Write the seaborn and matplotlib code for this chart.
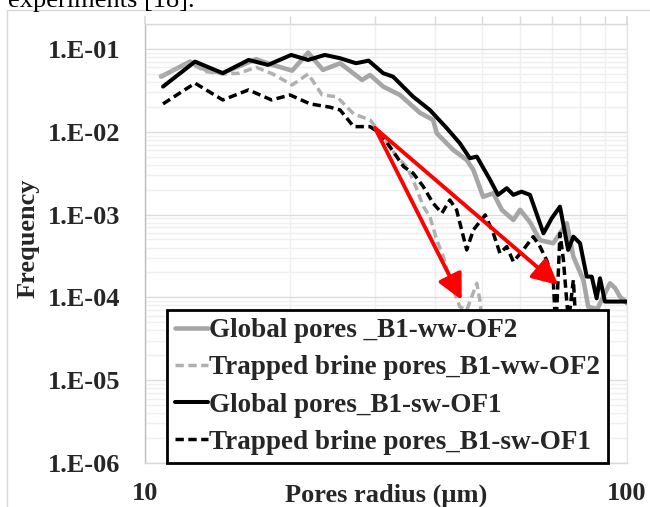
import numpy as np
import pandas as pd
import matplotlib
matplotlib.use("Agg")
import matplotlib.pyplot as plt
import matplotlib.ticker as mticker
from matplotlib.patches import Rectangle
import seaborn as sns

# ---------------- data ----------------
global_ww_x = [10.8, 12.4, 13.4, 14.5, 17.0, 18.4, 20.2, 21.8, 23.4, 25.4, 28.2, 29.3, 31.2, 33.8,
               37.2, 39.6, 40.3, 43.6, 46.5, 48.0, 50.3, 52.8, 55.0, 58.1, 60.0, 62.9, 66.0, 70.3,
               75.0, 77.4, 81.2, 83.1, 86.7, 92.2, 94.4, 96.7, 100.0]
global_ww_y = [0.0463, 0.0703, 0.0558, 0.0513, 0.0751, 0.0641, 0.0547, 0.0902, 0.0558, 0.0672, 0.0422,
               0.0485, 0.0351, 0.0278, 0.0169, 0.0139, 0.0096, 0.00603, 0.00456, 0.00346, 0.00164,
               0.00181, 0.00114, 0.00086, 0.00114, 0.00081, 0.00049, 0.00045, 0.000785, 0.00031,
               0.000162, 7.7e-5, 7.2e-5, 0.000148, 0.00013, 0.000102, 8.5e-5]

trapped_ww_x = [10.7, 12.4, 13.4, 14.5, 15.7, 17.0, 18.4, 20.2, 21.8, 23.3, 25.0, 27.1, 29.3, 31.2,
                33.3, 34.9, 36.0, 37.8, 39.0, 40.3, 41.6, 42.9, 45.0, 46.5, 48.8, 49.5, 51.0]
trapped_ww_y = [0.0463, 0.0672, 0.0532, 0.0499, 0.0509, 0.0601, 0.0499, 0.0367, 0.0499, 0.0278, 0.0265,
                0.0164, 0.0139, 0.00873, 0.00501, 0.00379, 0.00262, 0.00125, 0.000943, 0.000493,
                0.00031, 0.000162, 7.7e-5, 7.0e-5, 0.000148, 9.3e-5, 2.0e-5]

global_sw_x = [10.9, 12.7, 14.5, 16.4, 18.0, 20.1, 21.8, 23.6, 25.4, 27.4, 29.1, 31.2, 32.7, 36.0,
               39.0, 42.3, 45.0, 47.2, 48.8, 52.0, 54.0, 56.3, 58.1, 60.4, 62.9, 67.1, 69.8, 72.6,
               75.5, 77.4, 79.9, 82.5, 84.5, 86.5, 87.9, 90.0, 100.0]
global_sw_y = [0.0351, 0.0703, 0.0509, 0.0736, 0.0641, 0.0846, 0.0736, 0.0846, 0.0772, 0.0672, 0.0722,
               0.0509, 0.0463, 0.0265, 0.0183, 0.0110, 0.00726, 0.00479, 0.00501, 0.00262, 0.00173,
               0.00208, 0.00173, 0.00189, 0.00173, 0.000594, 0.000902, 0.001246, 0.000374, 0.000541,
               0.00045, 0.000178, 0.000178, 9.75e-5, 0.00017, 8.9e-5, 8.9e-5]

trapped_sw_x = [10.9, 12.7, 14.5, 16.4, 18.3, 20.0, 22.0, 24.2, 25.4, 27.1, 29.3, 30.7, 32.2, 34.4,
                36.0, 37.8, 39.6, 41.3, 42.9, 44.3, 46.5, 48.0, 50.8, 52.8, 54.5, 56.3, 58.1, 60.9,
                63.9, 66.0, 68.1, 70.3, 71.2, 72.6, 73.8, 75.6, 77.4, 79.0]
trapped_sw_y = [0.0217, 0.0386, 0.0242, 0.032, 0.0242, 0.0278, 0.0217, 0.0198, 0.0183, 0.01153, 0.01153,
                0.0096, 0.0066, 0.00379, 0.00316, 0.00217, 0.00137, 0.00104, 0.0015, 0.00114,
                0.000374, 0.000652, 0.00099, 0.000594, 0.000341, 0.00041, 0.00027, 0.000374,
                0.000541, 0.00041, 0.000283, 0.000162, 4.0e-5, 0.000594, 0.000283, 5.0e-5,
                0.000162, 2.0e-5]

series_labels = ["Global pores _B1-ww-OF2", "Trapped brine pores_B1-ww-OF2",
                 "Global pores_B1-sw-OF1", "Trapped brine pores_B1-sw-OF1"]

y_ticks = [1e-6, 1e-5, 1e-4, 1e-3, 1e-2, 1e-1]
x_ticks = [10, 100]

arrow_start = (30.0, 0.0111)
arrow_ends = [(45.4, 9.3e-5), (72.0, 1.41e-4)]

# ---------------- style ----------------
sns.set_theme(style="white")
plt.rcParams["font.family"] = ["Liberation Serif", "DejaVu Serif"]
plt.rcParams["font.weight"] = "bold"

W, H = 650, 507
fig = plt.figure(figsize=(W / 100, H / 100), dpi=100)
fig.patch.set_facecolor("white")

# outer chart border (light gray)
fig.patches.append(Rectangle((7 / W, -0.1), 2.0, 1.1 - 10 / H, transform=fig.transFigure,
                             fill=False, edgecolor="#d9d9d9", lw=1.0))
fig.text(8 / W, 1 - 7 / H, "experiments [18].", fontsize=19, fontweight="normal",
         family="Liberation Serif", va="baseline", ha="left", color="black")

ax = fig.add_axes([145 / W, (H - 463) / H, 482 / W, 439 / H])

df = {
    series_labels[0]: pd.DataFrame({"x": global_ww_x, "y": global_ww_y}),
    series_labels[1]: pd.DataFrame({"x": trapped_ww_x, "y": trapped_ww_y}),
    series_labels[2]: pd.DataFrame({"x": global_sw_x, "y": global_sw_y}),
    series_labels[3]: pd.DataFrame({"x": trapped_sw_x, "y": trapped_sw_y}),
}
styles = [
    dict(color="#a6a6a6", lw=3.3, ls="-"),
    dict(color="#b0b0b0", lw=2.5, ls=(0, (2.4, 1.3))),
    dict(color="black", lw=2.9, ls="-"),
    dict(color="black", lw=2.5, ls=(0, (2.4, 1.3))),
]
for lab, st in zip(series_labels, styles):
    d = df[lab]
    sns.lineplot(data=d, x="x", y="y", ax=ax, sort=False, estimator=None,
                 color=st["color"], linewidth=st["lw"], linestyle=st["ls"], label=lab,
                 zorder=3)

for end in arrow_ends:
    ax.annotate("", xy=end, xytext=arrow_start,
                arrowprops=dict(arrowstyle="-|>,head_length=0.7,head_width=0.35",
                                color="#ff0000", lw=2.8,
                                mutation_scale=22, shrinkA=0, shrinkB=0),
                zorder=5)

ax.set_xscale("log")
ax.set_yscale("log")
ax.set_xlim(10, 100)
ax.set_ylim(1e-6, 0.2)

ax.xaxis.set_major_locator(mticker.FixedLocator(x_ticks))
ax.xaxis.set_major_formatter(mticker.FixedFormatter([str(v) for v in x_ticks]))
ax.xaxis.set_minor_locator(mticker.LogLocator(base=10, subs=np.arange(2, 10)))
ax.xaxis.set_minor_formatter(mticker.NullFormatter())
ax.yaxis.set_major_locator(mticker.FixedLocator(y_ticks))
ax.yaxis.set_major_formatter(mticker.FuncFormatter(
    lambda v, p: "1.E-%02d" % int(round(-np.log10(v)))))
ax.yaxis.set_minor_locator(mticker.LogLocator(base=10, subs=np.arange(2, 10), numticks=20))
ax.yaxis.set_minor_formatter(mticker.NullFormatter())

ax.grid(which="major", color="#dcdcdc", lw=1.0)
ax.grid(which="minor", color="#efefef", lw=1.0)
ax.set_axisbelow(True)

ax.tick_params(axis="x", which="both", direction="out", length=6, color="#d9d9d9",
               top=True, bottom=False, labeltop=False, labelbottom=True,
               labelsize=19, pad=8)
ax.tick_params(axis="y", which="both", length=0, labelsize=19, pad=18)
for t in ax.get_xticklabels() + ax.get_yticklabels():
    t.set_fontweight("bold")

for side, col in [("left", "#bfbfbf"), ("bottom", "#d9d9d9"), ("top", "#d9d9d9"),
                  ("right", "#e6e6e6")]:
    ax.spines[side].set_color(col)
    ax.spines[side].set_linewidth(1.0)

ax.set_xlabel("Pores radius (µm)", fontsize=19, fontweight="bold")
ax.xaxis.set_label_coords(0.5, -0.073)
ax.xaxis.label.set_verticalalignment("center")
ax.set_ylabel("Frequency", fontsize=19, fontweight="bold")
ax.yaxis.set_label_coords(-0.243, 0.512)
ax.yaxis.label.set_verticalalignment("center")

leg = ax.legend(loc="lower left", bbox_to_anchor=(0.0456, 0.0), borderaxespad=0,
                frameon=True, fancybox=False, edgecolor="black", framealpha=1,
                prop=dict(family="Liberation Serif", weight="bold", size=19.5),
                handlelength=1.2, handletextpad=0.05, labelspacing=0.45,
                borderpad=0.3)
leg.get_frame().set_linewidth(2.0)
leg.set_zorder(10)

fig.savefig("out.png", dpi=100)
